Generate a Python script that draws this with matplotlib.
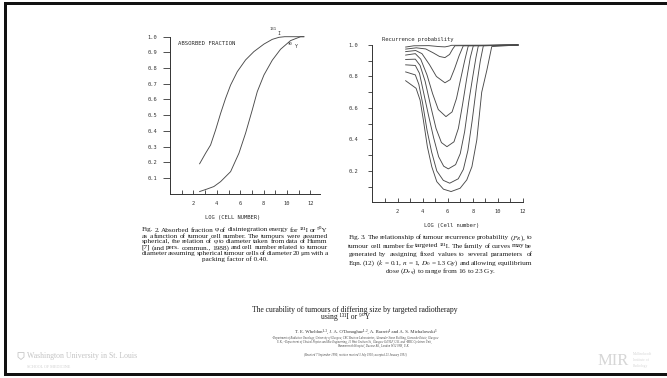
import matplotlib
matplotlib.use("Agg")
import matplotlib.pyplot as plt
from matplotlib.patches import Rectangle, Polygon
from matplotlib.ticker import FixedLocator

plt.rcParams['mathtext.fontset'] = 'stix'

# ---------------- data ----------------
# Fig. 2: absorbed fraction vs log(cell number)
af_x_131I = [2.53, 3.04, 3.47, 3.90, 4.32, 4.75, 5.18, 5.75, 6.46, 7.17, 8.03, 8.74, 9.31, 9.8, 11.44]
af_y_131I = [0.19, 0.257, 0.31, 0.406, 0.51, 0.607, 0.692, 0.777, 0.852, 0.905, 0.953, 0.983, 0.996, 1.0, 1.0]
af_x_90Y = [2.53, 3.2, 3.75, 4.32, 5.18, 5.89, 6.46, 7.03, 7.46, 8.03, 8.74, 9.45, 10.3, 11.16, 11.44]
af_y_90Y = [0.013, 0.03, 0.045, 0.076, 0.14, 0.257, 0.385, 0.533, 0.65, 0.756, 0.85, 0.92, 0.975, 1.0, 1.0]

# Fig. 3: recurrence probability, equilibrium dose 16 ... 23 Gy
doses_gy = [16, 17, 18, 19, 20, 21, 22, 23]
rp_x = [
    [2.65, 3.3, 4.5, 5.3, 5.78, 6.1, 6.3, 11.6],
    [2.65, 3.5, 4.25, 4.85, 5.35, 5.78, 6.15, 6.4, 6.58, 11.6],
    [2.65, 3.45, 3.95, 4.55, 5.1, 5.78, 6.2, 6.55, 6.9, 7.24, 11.6],
    [2.65, 3.42, 3.85, 4.35, 4.8, 5.25, 5.86, 6.35, 6.7, 7.05, 7.35, 7.64, 11.6],
    [2.65, 3.42, 3.8, 4.2, 4.65, 5.07, 5.5, 5.94, 6.5, 6.85, 7.18, 7.5, 7.8, 8.04, 11.6],
    [2.65, 3.42, 3.75, 4.1, 4.48, 4.88, 5.28, 5.68, 6.05, 6.63, 7.0, 7.35, 7.68, 8.0, 8.25, 8.44, 11.6],
    [2.65, 3.42, 3.7, 4.0, 4.35, 4.72, 5.13, 5.65, 6.16, 6.84, 7.25, 7.61, 7.95, 8.3, 8.6, 8.84, 11.6],
    [2.65, 3.48, 3.80, 4.06, 4.38, 4.73, 5.13, 5.66, 6.27, 6.99, 7.52, 7.93, 8.32, 8.71, 9.12, 9.51, 11.6],
]
rp_y = [
    [0.987, 0.995, 0.996, 0.99, 0.988, 0.993, 0.998, 1.0],
    [0.974, 0.982, 0.975, 0.95, 0.927, 0.92, 0.94, 0.975, 0.995, 1.0],
    [0.958, 0.965, 0.945, 0.875, 0.80, 0.76, 0.78, 0.85, 0.93, 0.995, 1.0],
    [0.936, 0.945, 0.91, 0.81, 0.69, 0.59, 0.545, 0.575, 0.66, 0.79, 0.90, 0.995, 1.0],
    [0.908, 0.91, 0.87, 0.77, 0.61, 0.47, 0.38, 0.354, 0.385, 0.47, 0.62, 0.78, 0.92, 0.995, 1.0],
    [0.874, 0.87, 0.82, 0.69, 0.55, 0.41, 0.29, 0.23, 0.213, 0.24, 0.31, 0.45, 0.64, 0.80, 0.92, 0.995, 1.0],
    [0.829, 0.81, 0.75, 0.63, 0.46, 0.32, 0.20, 0.14, 0.122, 0.15, 0.21, 0.33, 0.52, 0.74, 0.90, 0.995, 1.0],
    [0.773, 0.725, 0.65, 0.524, 0.354, 0.227, 0.132, 0.084, 0.069, 0.09, 0.143, 0.227, 0.397, 0.70, 0.84, 0.99, 1.0],
]

af_yticks = [0.1, 0.2, 0.3, 0.4, 0.5, 0.6, 0.7, 0.8, 0.9, 1.0]
rp_yticks = [0.2, 0.4, 0.6, 0.8, 1.0]
x_ticklabels = [2, 4, 6, 8, 10, 12]

# ---------------- figure ----------------
W, H = 667, 378
fig = plt.figure(figsize=(W / 100, H / 100), dpi=100)
fig.patch.set_facecolor('white')


def fx(px):
    return px / W


def fy(py):
    return 1 - py / H


MONO = ['DejaVu Sans Mono']
SERIF = ['Liberation Serif', 'DejaVu Serif']
LINE_C = '#4a4a4a'
TXT_C = '#2a2a2a'


def style_axes(ax, ylen, ypad):
    for s in ['top', 'right']:
        ax.spines[s].set_visible(False)
    for s in ['left', 'bottom']:
        ax.spines[s].set_linewidth(0.7)
        ax.spines[s].set_color('#333333')
    ax.tick_params(axis='y', which='both', direction='out', length=ylen, width=0.6,
                   pad=ypad, labelsize=3.9, colors='#333333')
    ax.tick_params(axis='x', which='both', direction='in', length=3.2, width=0.6,
                   pad=5.0, labelsize=3.9, colors='#333333')
    for lab in ax.get_xticklabels() + ax.get_yticklabels():
        lab.set_family(MONO)
    ax.set_facecolor('none')


# ----- left panel -----
ax1 = fig.add_axes([fx(170), fy(193.6), 11.7 * 12.8 / W, 156.9 / H])
ax1.set_xlim(0, 12.8)
ax1.set_ylim(0, 1.0)
ax1.plot(af_x_131I, af_y_131I, color=LINE_C, lw=0.65, clip_on=False)
ax1.plot(af_x_90Y, af_y_90Y, color=LINE_C, lw=0.65, clip_on=False)
ax1.set_yticks(af_yticks)
ax1.set_yticklabels([f"{v:.1f}" for v in af_yticks])
ax1.xaxis.set_major_locator(FixedLocator(x_ticklabels))
ax1.set_xticklabels([str(v) for v in x_ticklabels])
ax1.xaxis.set_minor_locator(FixedLocator([1, 3, 5, 7, 9, 11]))
style_axes(ax1, 4.8, 4.5)
ax1.text(0.65, 0.955, "ABSORBED FRACTION", family=MONO, fontsize=4.1, color=TXT_C,
         va='center', ha='left')
ax1.text(8.5, 1.052, "131", family=MONO, fontsize=2.8, color=TXT_C, va='center', ha='left')
ax1.text(9.15, 1.022, "I", family=MONO, fontsize=3.4, color=TXT_C, va='center', ha='left')
ax1.text(10.1, 0.955, "90", family=MONO, fontsize=2.8, color=TXT_C, va='center', ha='left')
ax1.text(10.65, 0.935, "Y", family=MONO, fontsize=3.4, color=TXT_C, va='center', ha='left')
fig.text(fx(233), fy(218), "LOG (CELL NUMBER)", family=MONO, fontsize=4.0, color=TXT_C,
         ha='center', va='center')

# ----- right panel -----
ax2 = fig.add_axes([fx(372.4), fy(202.4), 12.55 * 12 / W, 157.4 / H])
ax2.set_xlim(0, 12)
ax2.set_ylim(0, 1.0)
for xs, ys in zip(rp_x, rp_y):
    ax2.plot(xs, ys, color=LINE_C, lw=0.65, clip_on=False)
ax2.set_yticks(rp_yticks)
ax2.set_yticklabels([f"{v:.1f}" for v in rp_yticks])
ax2.yaxis.set_minor_locator(FixedLocator([0.1, 0.3, 0.5, 0.7, 0.9]))
ax2.xaxis.set_major_locator(FixedLocator(x_ticklabels))
ax2.set_xticklabels([str(v) for v in x_ticklabels])
ax2.xaxis.set_minor_locator(FixedLocator([1, 3, 5, 7, 9, 11]))
style_axes(ax2, 3.1, 7.0)
fig.text(fx(382), fy(39), "Recurrence probability", family=MONO, fontsize=4.0, color=TXT_C,
         ha='left', va='center')
fig.text(fx(451.7), fy(226), "LOG (Cell number)", family=MONO, fontsize=4.0, color=TXT_C,
         ha='center', va='center')

# ----- captions -----
renderer = fig.canvas.get_renderer()


def justified(lines, x0, x1, ys, fs, color='#1a1a1a'):
    n = len(lines)
    for i, (line, y) in enumerate(zip(lines, ys)):
        if i == n - 1:
            fig.text(fx((x0 + x1) / 2), fy(y), line, family=SERIF, fontsize=fs, color=color,
                     ha='center', va='center')
            continue
        words = line.split(' ')
        ts = [fig.text(0, fy(y), w, family=SERIF, fontsize=fs, color=color,
                       ha='left', va='center') for w in words]
        widths = [t.get_window_extent(renderer).width for t in ts]
        gap = (x1 - x0 - sum(widths)) / max(len(words) - 1, 1)
        x = x0
        for t, wd in zip(ts, widths):
            t.set_x(fx(x))
            x += wd + gap


cap2 = [
    "Fig. 2. Absorbed fraction φ of disintegration energy for ¹³¹I or ⁹⁰Y",
    "as a function of tumour cell number. The tumours were assumed",
    "spherical, the relation of φ to diameter taken from data of Humm",
    "[7] (and pers. commun., 1988) and cell number related to tumour",
    "diameter assuming spherical tumour cells of diameter 20 μm with a",
    "packing factor of 0.40.",
]
justified(cap2, 141.7, 327.7, [230, 236, 241.8, 247.7, 253.4, 259.6], 5.2)

cap3 = [
    "Fig. 3. The relationship of tumour recurrence probability ($P_R$), to",
    "tumour cell number for targeted ¹³¹I. The family of curves may be",
    "generated by assigning fixed values to several parameters of",
    "Eqn. (12) ($k$ = 0.1, $n$ = 1, $D_0$ = 1.3 Gy) and allowing equilibrium",
    "dose ($D_{eq}$) to range from 16 to 23 Gy.",
]
justified(cap3, 348.3, 532.3, [237.7, 246, 254.6, 263.2, 271.7], 5.2)

# ----- article header -----
fig.text(fx(354.7), fy(310), "The curability of tumours of differing size by targeted radiotherapy",
         family=SERIF, fontsize=5.5, color='#1a1a1a', ha='center', va='center')
fig.text(fx(345.5), fy(317.4), "using ¹³¹I or ⁹⁰Y", family=SERIF, fontsize=5.5,
         color='#1a1a1a', ha='center', va='center')
fig.text(fx(366), fy(331.7),
         "T. E. Wheldon¹·², J. A. O'Donoghue¹·², A. Barrett¹ and A. S. Michalowski³",
         family=SERIF, fontsize=3.4, color='#333333', ha='center', va='center')
aff = [
    "¹Department of Radiation Oncology, University of Glasgow, CRC Beatson Laboratories, Alexander Stone Building, Garscube Estate, Glasgow",
    "U.K.; ²Department of Clinical Physics and Bio-Engineering, 11 West Graham St., Glasgow G4 9LF, U.K. and ³MRC Cyclotron Unit,",
    "Hammersmith Hospital, Ducane Rd., London W12 0HS, U.K.",
]
for line, y, xc in zip(aff, [337.8, 341.7, 345.7], [354.7, 354.5, 373]):
    fig.text(fx(xc), fy(y), line, family=SERIF, fontsize=2.1, color='#444444',
             ha='center', va='center', style='italic')
fig.text(fx(355.8), fy(355),
         "(Received 7 September 1990; revision received 3 July 1990; accepted 23 January 1991)",
         family=SERIF, fontsize=2.1, color='#444444', ha='center', va='center', style='italic')

# ----- logos -----
# small shield mark (no installed font has the shield glyph)
fig.add_artist(Polygon([(fx(18), fy(352.5)), (fx(24), fy(352.5)), (fx(24), fy(357)),
                        (fx(21), fy(359.5)), (fx(18), fy(357))], closed=True,
                       transform=fig.transFigure, facecolor='none', edgecolor='#c8c8c8', lw=0.6))
fig.text(fx(27), fy(356), "Washington University in St. Louis", family=SERIF, fontsize=5.6,
         color='#c4c4c4', ha='left', va='center')
fig.text(fx(27), fy(367), "SCHOOL OF MEDICINE", family=SERIF, fontsize=3.0,
         color='#cfcfcf', ha='left', va='center')
fig.text(fx(598), fy(361), "MIR", family=SERIF, fontsize=12, color='#d6d6d6',
         ha='left', va='center')
for line, y in zip(["Mallinckrodt", "Institute of", "Radiology"], [354, 360, 366]):
    fig.text(fx(633), fy(y), line, family=SERIF, fontsize=2.6, color='#d6d6d6',
             ha='left', va='center')

# ----- frame -----
for (x, y, w, h) in [(4, 2, 663, 3.2), (4, 2, 3.2, 374), (4, 373, 663, 3.2)]:
    fig.add_artist(Rectangle((fx(x), fy(y + h)), w / W, h / H, transform=fig.transFigure,
                             facecolor='#111111', edgecolor='none'))

fig.savefig("out.png", dpi=100, facecolor='white')
